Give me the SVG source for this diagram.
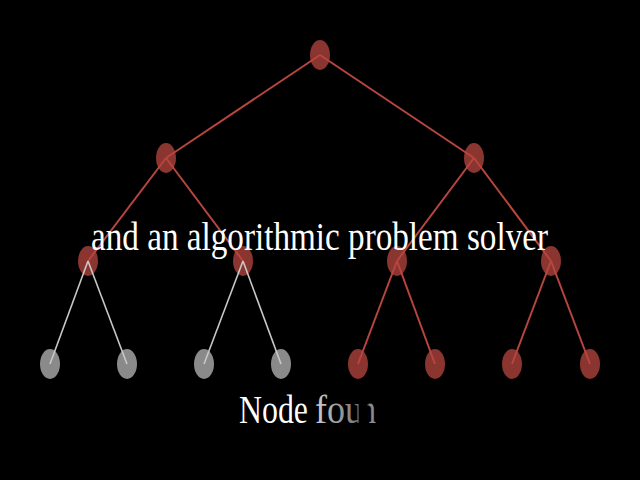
<svg xmlns="http://www.w3.org/2000/svg" width="640" height="480" viewBox="0 0 640 480">
<defs>
<style>
.r{fill:#8a3530}
.g{fill:#8a8a8a}
.er{stroke:#b8453f;stroke-width:2;fill:none}
.eg{stroke:#c8c8c8;stroke-width:1.6;fill:none}
.t{font-family:"Liberation Serif","DejaVu Serif",serif;fill:#fff}
</style>
<linearGradient id="fade" x1="238" y1="0" x2="378" y2="0" gradientUnits="userSpaceOnUse">
<stop offset="0" stop-color="#ffffff"/>
<stop offset="0.46" stop-color="#ffffff"/>
<stop offset="0.6" stop-color="#bdbdbd"/>
<stop offset="0.855" stop-color="#777777"/>
<stop offset="0.868" stop-color="#000000"/>
<stop offset="0.92" stop-color="#000000"/>
<stop offset="0.94" stop-color="#8a8a8a"/>
<stop offset="1" stop-color="#8a8a8a"/>
</linearGradient>
</defs>
<rect width="640" height="480" fill="#000"/>
<g id="nodes">
<g id="n1"><ellipse class="r" cx="320" cy="55" rx="10" ry="15"/></g>
<g id="n2"><ellipse class="r" cx="166" cy="158" rx="10" ry="15"/></g>
<g id="n3"><ellipse class="r" cx="474" cy="158" rx="10" ry="15"/></g>
<g id="n4"><ellipse class="r" cx="88" cy="261" rx="10" ry="15"/></g>
<g id="n5"><ellipse class="r" cx="243" cy="261" rx="10" ry="15"/></g>
<g id="n6"><ellipse class="r" cx="397" cy="261" rx="10" ry="15"/></g>
<g id="n7"><ellipse class="r" cx="551" cy="261" rx="10" ry="15"/></g>
<g id="n8"><ellipse class="g" cx="50" cy="364" rx="10" ry="15"/></g>
<g id="n9"><ellipse class="g" cx="127" cy="364" rx="10" ry="15"/></g>
<g id="n10"><ellipse class="g" cx="204" cy="364" rx="10" ry="15"/></g>
<g id="n11"><ellipse class="g" cx="281" cy="364" rx="10" ry="15"/></g>
<g id="n12"><ellipse class="r" cx="358" cy="364" rx="10" ry="15"/></g>
<g id="n13"><ellipse class="r" cx="435" cy="364" rx="10" ry="15"/></g>
<g id="n14"><ellipse class="r" cx="512" cy="364" rx="10" ry="15"/></g>
<g id="n15"><ellipse class="r" cx="590" cy="364" rx="10" ry="15"/></g>
</g>
<g id="edges">
<line class="er" x1="320" y1="55" x2="166" y2="158"/>
<line class="er" x1="320" y1="55" x2="474" y2="158"/>
<line class="er" x1="166" y1="158" x2="88" y2="261"/>
<line class="er" x1="166" y1="158" x2="243" y2="261"/>
<line class="er" x1="474" y1="158" x2="397" y2="261"/>
<line class="er" x1="474" y1="158" x2="551" y2="261"/>
<line class="eg" x1="88" y1="261" x2="50" y2="364"/>
<line class="eg" x1="88" y1="261" x2="127" y2="364"/>
<line class="eg" x1="243" y1="261" x2="204" y2="364"/>
<line class="eg" x1="243" y1="261" x2="281" y2="364"/>
<line class="er" x1="397" y1="261" x2="358" y2="364"/>
<line class="er" x1="397" y1="261" x2="435" y2="364"/>
<line class="er" x1="551" y1="261" x2="512" y2="364"/>
<line class="er" x1="551" y1="261" x2="590" y2="364"/>
</g>
<text class="t" x="91" y="250" font-size="40" textLength="457" lengthAdjust="spacingAndGlyphs">and an algorithmic problem solver</text>
<text class="t" y="423" font-size="40" style="fill:url(#fade)"><tspan x="239" textLength="69" lengthAdjust="spacingAndGlyphs">Node</tspan><tspan x="315" textLength="48" lengthAdjust="spacingAndGlyphs">fou</tspan><tspan x="360" textLength="16" lengthAdjust="spacingAndGlyphs">n</tspan></text>
</svg>
